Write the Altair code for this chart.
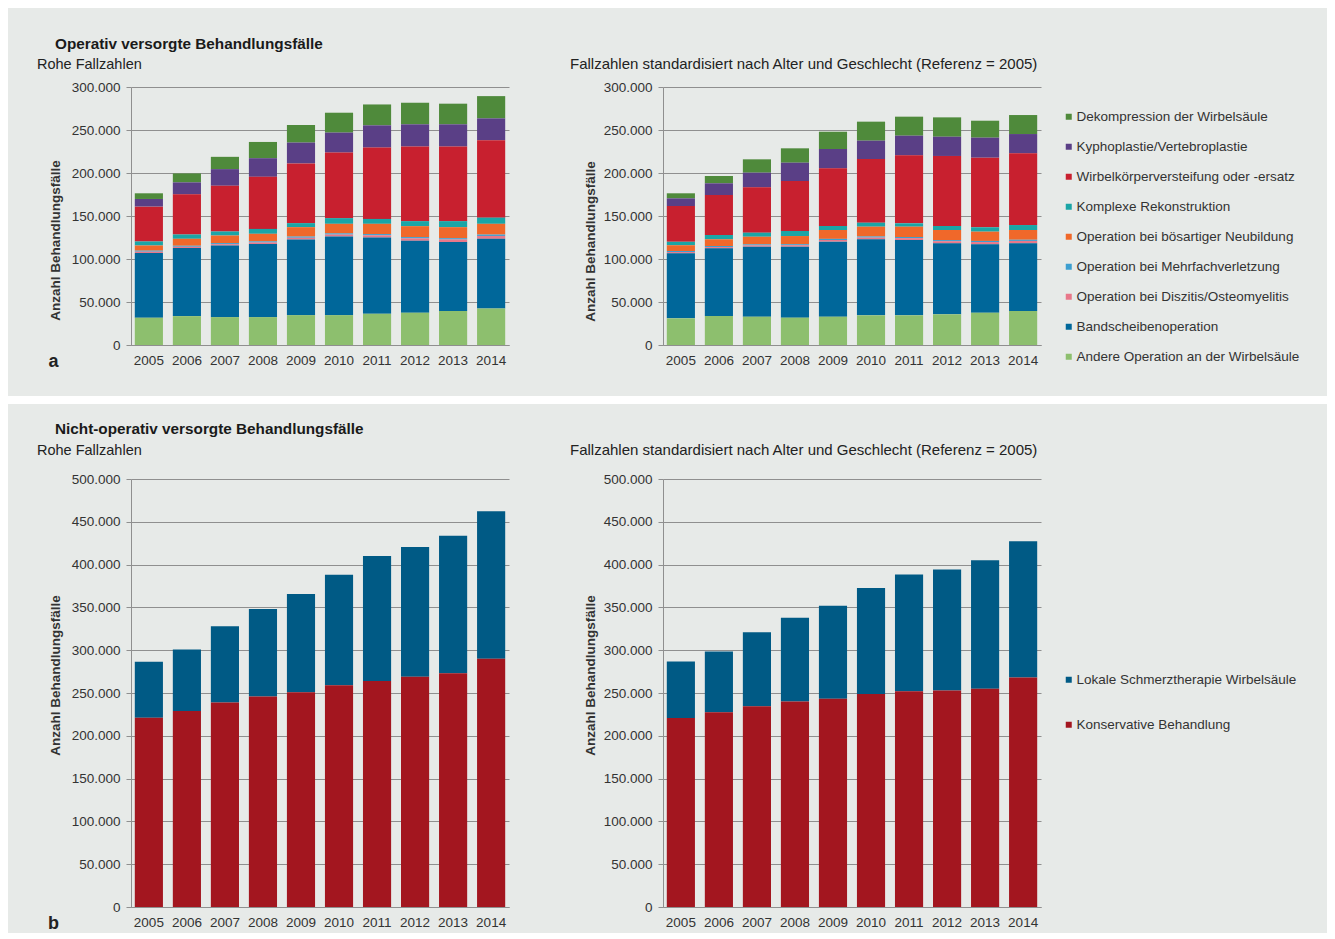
import altair as alt
import pandas as pd

FONT = "Liberation Sans"
BG = "#e7eae8"
TXT = "#333333"
GRID = "#8f8f8f"

years = [str(y) for y in range(2005, 2015)]

# ---- Operativ versorgte Behandlungsfälle (legend order, top -> bottom) ----
op_cats = [
    "Dekompression der Wirbelsäule",
    "Kyphoplastie/Vertebroplastie",
    "Wirbelkörperversteifung oder -ersatz",
    "Komplexe Rekonstruktion",
    "Operation bei bösartiger Neubildung",
    "Operation bei Mehrfachverletzung",
    "Operation bei Diszitis/Osteomyelitis",
    "Bandscheibenoperation",
    "Andere Operation an der Wirbelsäule",
]
op_colors = ["#4f8a3b", "#5a3f86", "#c8202f", "#1ba5a6", "#f0682a",
             "#3d9fd0", "#e8788a", "#00679a", "#8dbf6e"]

# raw case numbers
raw_dekompression = [6600, 10400, 14300, 18900, 20400, 23100, 24300, 25100, 24000, 25900]
raw_kypho = [8900, 13900, 19300, 21600, 24300, 23200, 25800, 25800, 25800, 25400]
raw_wirbelkoerper = [40500, 46700, 53200, 60600, 69400, 76300, 83000, 86800, 86800, 90000]
raw_komplex = [4700, 5000, 4700, 5700, 4700, 6600, 5700, 5800, 7000, 7200]
raw_boesartig = [6000, 8100, 8800, 8800, 10900, 11100, 11900, 12700, 12800, 12500]
raw_mehrfach = [1200, 1200, 1300, 1300, 1400, 1400, 1500, 1500, 1500, 1600]
raw_diszitis = [1500, 1500, 1500, 1800, 2000, 2200, 2500, 2800, 3000, 3300]
raw_bandscheibe = [75300, 79100, 83300, 85000, 88000, 91500, 88700, 83700, 80300, 81000]
raw_andere = [31700, 33600, 32400, 32400, 34700, 34700, 36300, 37500, 39400, 42500]

# standardised case numbers (reference = 2005)
std_dekompression = [5900, 8500, 15500, 16700, 20100, 22100, 22100, 22500, 19700, 22100]
std_kypho = [8900, 13600, 17100, 21300, 22500, 21300, 22900, 22400, 23300, 22400]
std_wirbelkoerper = [41600, 46500, 52700, 58100, 67000, 74100, 79000, 81400, 80900, 83400]
std_komplex = [4000, 5000, 4700, 5900, 4700, 4600, 3900, 4700, 5100, 5800]
std_boesartig = [6700, 7800, 8900, 9500, 10300, 11400, 12000, 11700, 10800, 11300]
std_mehrfach = [1200, 1200, 1200, 1200, 1300, 1300, 1300, 1300, 1300, 1400]
std_diszitis = [1500, 1500, 1500, 1700, 1900, 2000, 2200, 2500, 2600, 2800]
std_bandscheibe = [75600, 78700, 81400, 82500, 87300, 88400, 87600, 82500, 79500, 78700]
std_andere = [31000, 33700, 32900, 31800, 32900, 34500, 34500, 35700, 37600, 39500]

# ---- Nicht-operativ versorgte Behandlungsfälle ----
nop_cats = ["Lokale Schmerztherapie Wirbelsäule", "Konservative Behandlung"]
nop_colors = ["#005a85", "#a3161f"]

raw_lokal = [65500, 71800, 89100, 102100, 114600, 129000, 146100, 151600, 160600, 172400]
raw_konservativ = [221000, 229000, 239000, 246000, 251000, 259000, 264000, 269000, 273000, 290000]
std_lokal = [65800, 71000, 86500, 97800, 108500, 124000, 136400, 141200, 150000, 159300]
std_konservativ = [220900, 227400, 234400, 240200, 243400, 248800, 251900, 253000, 255000, 268100]


def long_df(cats, series):
    rows = []
    n = len(cats)
    for i, (c, vals) in enumerate(zip(cats, series)):
        for y, v in zip(years, vals):
            rows.append({"Jahr": y, "Kategorie": c, "Wert": v, "ord": n - 1 - i})
    return pd.DataFrame(rows)


op_raw_df = long_df(op_cats, [raw_dekompression, raw_kypho, raw_wirbelkoerper, raw_komplex,
                              raw_boesartig, raw_mehrfach, raw_diszitis, raw_bandscheibe, raw_andere])
op_std_df = long_df(op_cats, [std_dekompression, std_kypho, std_wirbelkoerper, std_komplex,
                              std_boesartig, std_mehrfach, std_diszitis, std_bandscheibe, std_andere])
nop_raw_df = long_df(nop_cats, [raw_lokal, raw_konservativ])
nop_std_df = long_df(nop_cats, [std_lokal, std_konservativ])

W = 378
H_TOP = 258
H_BOT = 428
PLOT_LEFT = 123   # distance from chart left edge to left plot area
FULL_W = 1319


def bar_chart(df, cats, colors, ymax, height, ytitle_x, ytitle_y, title, title_dx,
              title_offset, title_size, letter=None, legend_y=None, row_pad=15):
    x_axis_kw = dict(labelAngle=0, ticks=False, labelPadding=8, domainColor=GRID)
    if letter:
        x_axis_kw.update(title=letter, titleX=-78, titleY=16, titleFontSize=18,
                         titleFontWeight="bold", titleAlign="center",
                         titleBaseline="middle", titleColor="#222222", titleFont=FONT)
    else:
        x_axis_kw.update(title=None)
    if legend_y is not None:
        legend = alt.Legend(orient="none", legendX=399, legendY=legend_y, title=None,
                            symbolType="square", symbolSize=36, symbolStrokeWidth=0,
                            labelFontSize=13.5, labelFont=FONT, labelColor=TXT,
                            rowPadding=row_pad, labelOffset=1, labelLimit=320)
    else:
        legend = None
    return alt.Chart(df).mark_bar().encode(
        x=alt.X("Jahr:O", scale=alt.Scale(paddingInner=0.26, paddingOuter=0.1),
                axis=alt.Axis(**x_axis_kw)),
        y=alt.Y("Wert:Q", stack="zero",
                scale=alt.Scale(domain=[0, ymax], nice=False),
                axis=alt.Axis(values=list(range(0, ymax + 1, 50000)),
                              labelExpr="replace(format(datum.value, ','), ',', '.')",
                              title="Anzahl Behandlungsfälle", titleX=ytitle_x, titleY=ytitle_y,
                              titleAngle=270, titleAlign="center", titleBaseline="middle",
                              titleFontWeight="bold", titleFontSize=13.5, titleFont=FONT,
                              titleColor=TXT, tickSize=5, labelPadding=6,
                              domainColor=GRID, tickColor=GRID)),
        color=alt.Color("Kategorie:N", scale=alt.Scale(domain=cats, range=colors),
                        legend=legend),
        order=alt.Order("ord:Q", sort="ascending"),
    ).properties(
        width=W, height=height,
        title=alt.TitleParams(text=title, anchor="start", frame="group", dx=title_dx,
                              offset=title_offset, fontSize=title_size, fontWeight="normal",
                              font=FONT, color="#222222"),
    )


band_df = pd.DataFrame({"k": [0]})

# white separator band between the two panels (drawn in the top-left chart)
band = alt.Chart(band_df).mark_rect(color="white").encode(
    x=alt.value(-PLOT_LEFT), x2=alt.value(FULL_W - PLOT_LEFT),
    y=alt.value(309), y2=alt.value(317))
# invisible extent keeper for the lower panel so both rows align
keeper = alt.Chart(band_df).mark_rect(opacity=0).encode(
    x=alt.value(-PLOT_LEFT), x2=alt.value(FULL_W - PLOT_LEFT),
    y=alt.value(H_BOT + 2), y2=alt.value(H_BOT + 3))

STD_TITLE = "Fallzahlen standardisiert nach Alter und Geschlecht (Referenz = 2005)"

tl = alt.layer(band, bar_chart(op_raw_df, op_cats, op_colors, 300000, H_TOP, -76, 153,
                               "Rohe Fallzahlen", -94, 8, 14.5, letter="a"))
tr = bar_chart(op_std_df, op_cats, op_colors, 300000, H_TOP, -73, 154,
               STD_TITLE, -93, 8, 15, legend_y=23, row_pad=15)
bl = alt.layer(keeper, bar_chart(nop_raw_df, nop_cats, nop_colors, 500000, H_BOT, -76, 196,
                                 "Rohe Fallzahlen", -94, 14, 14.5, letter="b"))
br = bar_chart(nop_std_df, nop_cats, nop_colors, 500000, H_BOT, -73, 196,
               STD_TITLE, -93, 14, 15, legend_y=194, row_pad=30)

row1 = alt.hconcat(tl, tr, spacing=154, bounds="flush",
                   title=alt.TitleParams("Operativ versorgte Behandlungsfälle", anchor="start",
                                         frame="group", dx=-76, offset=4, fontSize=15.3,
                                         fontWeight="bold", font=FONT, color="#1a1a1a")
                   ).resolve_scale(color="independent")
row2 = alt.hconcat(bl, br, spacing=154, bounds="flush",
                   title=alt.TitleParams("Nicht-operativ versorgte Behandlungsfälle", anchor="start",
                                         frame="group", dx=-76, offset=5, fontSize=15.3,
                                         fontWeight="bold", font=FONT, color="#1a1a1a")
                   ).resolve_scale(color="independent")

chart = alt.vconcat(row1, row2, spacing=18).properties(
    padding={"left": 0, "top": 29, "right": 0, "bottom": 1},
    background=BG,
).configure_view(strokeWidth=0).configure_axis(
    labelFont=FONT, labelFontSize=13.5, labelColor=TXT,
    gridColor=GRID, gridWidth=1,
).configure_axisY(grid=True).configure_axisX(grid=False)

chart.save("out.html", embed_options={"renderer": "svg", "actions": False})
